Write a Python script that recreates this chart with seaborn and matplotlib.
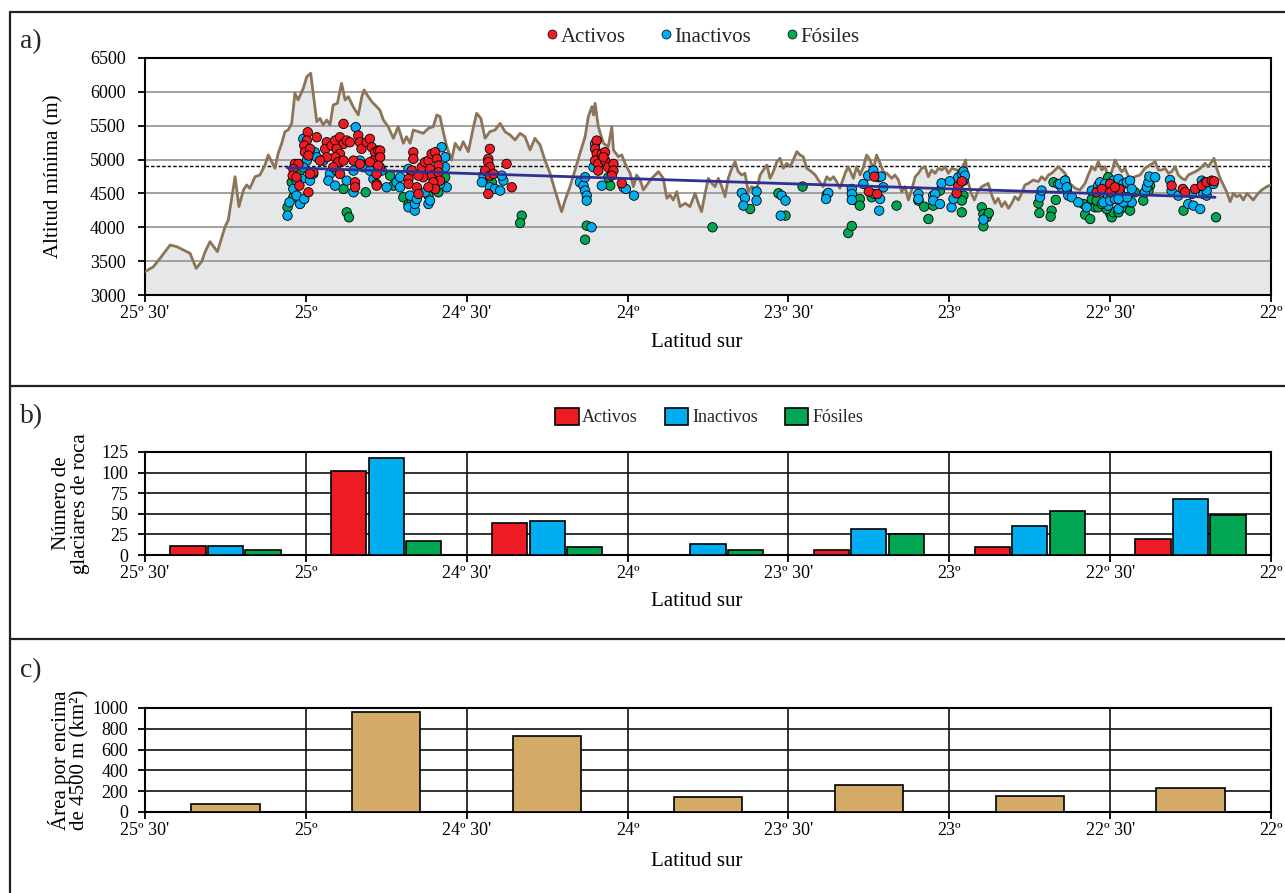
import numpy as np
import pandas as pd
import matplotlib
matplotlib.use("Agg")
import matplotlib.pyplot as plt
import seaborn as sns
from matplotlib.lines import Line2D
from matplotlib.patches import Patch

# ---------------- DATA ----------------
# topographic profile (latitude south, altitude m)
profile = [
    (25.500, 3344), (25.474, 3418), (25.453, 3542), (25.422, 3738), (25.401, 3714), (25.381, 3665),
    (25.360, 3616), (25.341, 3394), (25.324, 3492), (25.313, 3640), (25.298, 3788), (25.275, 3640),
    (25.251, 4010), (25.241, 4108), (25.220, 4747), (25.208, 4305), (25.194, 4551), (25.184, 4625),
    (25.174, 4576), (25.158, 4747), (25.143, 4772), (25.127, 4920), (25.117, 5068), (25.106, 4969),
    (25.096, 4871), (25.086, 5093), (25.075, 5240), (25.065, 5412), (25.055, 5437), (25.044, 5535),
    (25.034, 5979), (25.024, 5880), (25.008, 6053), (24.997, 6225), (24.985, 6275), (24.977, 5979),
    (24.966, 5560), (24.956, 5609), (24.946, 5511), (24.935, 5585), (24.925, 5511), (24.915, 5806),
    (24.902, 5831), (24.889, 6127), (24.878, 5880), (24.868, 5929), (24.853, 5782), (24.837, 5659),
    (24.826, 5929), (24.819, 6028), (24.806, 5929), (24.795, 5855),
    (24.770, 5732), (24.759, 5585), (24.744, 5486), (24.728, 5314), (24.713, 5486), (24.697, 5240),
    (24.687, 5338), (24.676, 5240), (24.666, 5437), (24.650, 5412), (24.635, 5388), (24.619, 5462),
    (24.604, 5486), (24.593, 5659), (24.583, 5634), (24.573, 5412), (24.562, 5190), (24.547, 4994),
    (24.536, 5240), (24.521, 5142), (24.511, 5264), (24.495, 5117), (24.479, 5486), (24.469, 5683),
    (24.456, 5609), (24.443, 5314), (24.428, 5412), (24.412, 5437), (24.396, 5535), (24.381, 5412),
    (24.365, 5363), (24.350, 5290), (24.334, 5388), (24.319, 5338), (24.303, 5142), (24.288, 5314),
    (24.272, 5216), (24.257, 4994), (24.241, 4797), (24.226, 4551), (24.210, 4305), (24.205, 4230),
    (24.194, 4403), (24.179, 4600), (24.163, 4846), (24.148, 5093), (24.132, 5338), (24.122, 5634),
    (24.111, 5781), (24.106, 5659), (24.101, 5831), (24.091, 5486), (24.075, 5240), (24.060, 5190),
    (24.049, 5486),
    (24.044, 5142), (24.029, 5043), (24.018, 5068), (24.008, 4945), (23.992, 4797), (23.982, 4600),
    (23.972, 4772), (23.961, 4699), (23.951, 4551), (23.940, 4625), (23.925, 4723), (23.904, 4821),
    (23.889, 4723), (23.878, 4428), (23.868, 4477), (23.858, 4403), (23.847, 4526), (23.837, 4305),
    (23.821, 4354), (23.806, 4305), (23.790, 4502), (23.780, 4354), (23.770, 4231), (23.759, 4502),
    (23.749, 4723), (23.738, 4650), (23.728, 4600), (23.718, 4723), (23.707, 4600), (23.697, 4452),
    (23.687, 4723), (23.676, 4871), (23.666, 4969), (23.656, 4821), (23.645, 4772), (23.635, 4797),
    (23.625, 4526), (23.614, 4600), (23.599, 4551), (23.588, 4772), (23.578, 4846), (23.567, 4920),
    (23.557, 4723), (23.547, 4821), (23.536, 4969), (23.526, 5019), (23.516, 4871), (23.505, 4945),
    (23.495, 4895), (23.485, 4994), (23.474, 5117), (23.464, 5068), (23.454, 5043), (23.443, 4871),
    (23.428, 4821), (23.417, 4772), (23.407, 4699), (23.392, 4600), (23.381, 4747), (23.371, 4699),
    (23.360, 4747), (23.350, 4674), (23.340, 4576), (23.329, 4723),
    (23.324, 4797), (23.314, 4895), (23.298, 4723), (23.288, 4895), (23.277, 4772), (23.267, 4895),
    (23.257, 5068), (23.246, 4994), (23.236, 4846), (23.226, 5068), (23.215, 4945), (23.205, 4821),
    (23.194, 4797), (23.179, 4723), (23.169, 4772), (23.158, 4699), (23.148, 4526), (23.138, 4600),
    (23.127, 4403), (23.117, 4551), (23.106, 4747), (23.096, 4797), (23.086, 4871), (23.075, 4895),
    (23.065, 4747), (23.055, 4846), (23.044, 4797), (23.034, 4871), (23.023, 4846), (23.013, 4895),
    (23.003, 4797), (22.992, 4871), (22.977, 4846), (22.967, 4846), (22.956, 4920), (22.949, 4994),
    (22.943, 4699), (22.932, 4502), (22.922, 4403), (22.912, 4526), (22.899, 4600), (22.889, 4625),
    (22.879, 4649), (22.868, 4477), (22.858, 4354), (22.848, 4428), (22.837, 4305), (22.827, 4378),
    (22.816, 4280), (22.806, 4354), (22.796, 4452), (22.785, 4403), (22.775, 4502), (22.765, 4625),
    (22.754, 4649), (22.739, 4699), (22.723, 4674), (22.713, 4747), (22.702, 4699), (22.692, 4772),
    (22.682, 4797), (22.671, 4846), (22.661, 4895),
    (22.640, 4797), (22.625, 4649), (22.609, 4576), (22.594, 4551), (22.578, 4649), (22.568, 4772),
    (22.557, 4895), (22.547, 4846), (22.537, 4969), (22.526, 4846), (22.516, 4895), (22.506, 4747),
    (22.495, 4821), (22.485, 4994), (22.474, 4895), (22.464, 4821), (22.454, 4871), (22.438, 4699),
    (22.423, 4747), (22.407, 4772), (22.392, 4871), (22.376, 4920), (22.360, 4969), (22.350, 4846),
    (22.340, 4846), (22.329, 4871), (22.319, 4797), (22.309, 4821), (22.298, 4895), (22.288, 4772),
    (22.277, 4723), (22.267, 4699), (22.257, 4772), (22.246, 4797), (22.236, 4821), (22.226, 4846),
    (22.215, 4895), (22.205, 4945), (22.195, 4895), (22.184, 4969), (22.177, 5019), (22.169, 4871),
    (22.158, 4723), (22.148, 4625), (22.138, 4526), (22.127, 4378), (22.117, 4502), (22.107, 4452),
    (22.096, 4477), (22.086, 4403), (22.075, 4502), (22.065, 4452), (22.055, 4403), (22.044, 4477),
    (22.029, 4551), (22.013, 4600), (22.001, 4625),
]

activos_pts = [
    (24.883, 5527), (24.994, 5404), (24.997, 5281), (25.005, 5207), (25.003, 5108), (24.987, 5158),
    (24.992, 5059), (25.034, 4936), (25.023, 4936), (25.039, 4862), (25.041, 4763), (25.029, 4739),
    (25.020, 4615), (24.992, 4517), (24.966, 5330), (24.935, 5256), (24.940, 5158), (24.920, 5207),
    (24.909, 5281), (24.894, 5330), (24.883, 5232), (24.873, 5281), (24.863, 5256), (24.904, 5158),
    (24.894, 5084), (24.909, 5035), (24.899, 4961), (24.915, 4887), (24.894, 4788), (24.837, 5355),
    (24.832, 5256), (24.827, 5158), (24.811, 5256), (24.801, 5306), (24.795, 5182), (24.785, 5108),
    (24.775, 5133), (24.790, 4985), (24.770, 5035), (24.852, 4985), (24.832, 4936), (24.801, 4961),
    (24.780, 4640), (24.847, 4665), (24.847, 4591), (24.883, 4985), (24.935, 5035), (24.956, 4985),
    (24.977, 4813), (24.987, 4788), (24.770, 4887),
    (24.769, 5133), (24.769, 5035), (24.775, 4911), (24.780, 4788), (24.780, 4615), (24.666, 5108),
    (24.666, 5010), (24.671, 4837), (24.681, 4714), (24.681, 4640), (24.655, 4591), (24.650, 4492),
    (24.640, 4887), (24.630, 4961), (24.619, 4985), (24.609, 5084), (24.598, 5108), (24.593, 5010),
    (24.588, 4911), (24.614, 4862), (24.609, 4763), (24.588, 4813), (24.583, 4689), (24.604, 4665),
    (24.598, 4566), (24.619, 4591), (24.635, 4739), (24.650, 4763), (24.428, 5158), (24.433, 5010),
    (24.433, 4961), (24.428, 4887), (24.443, 4837), (24.428, 4763), (24.433, 4492), (24.417, 4788),
    (24.376, 4936), (24.360, 4591), (24.096, 5281), (24.101, 5158), (24.096, 5084), (24.101, 4985),
    (24.091, 4936), (24.080, 5084), (24.070, 5108), (24.070, 4985), (24.060, 4887), (24.044, 4936),
    (24.044, 4837), (24.049, 4763), (24.091, 4837), (24.075, 5035), (24.018, 4650),
    (23.233, 4749), (23.250, 4527), (23.224, 4492), (22.972, 4606), (22.961, 4680), (22.977, 4502),
    (22.542, 4517), (22.526, 4566), (22.500, 4640), (22.500, 4517), (22.471, 4566), (22.485, 4591),
    (22.309, 4615), (22.274, 4566), (22.267, 4517), (22.236, 4566), (22.215, 4615), (22.200, 4665),
    (22.184, 4689), (22.177, 4680),
]

inactivos_pts = [
    (25.008, 5306), (24.972, 5108), (24.966, 5035), (24.997, 4985), (25.008, 4887), (25.013, 4714),
    (25.029, 4689), (25.039, 4566), (25.051, 4369), (25.057, 4172), (25.018, 4344), (25.029, 4468),
    (25.005, 4418), (24.987, 4689), (24.977, 4788), (24.946, 4985), (24.925, 4788), (24.930, 4689),
    (24.909, 4615), (24.904, 4837), (24.873, 4689), (24.852, 4517), (24.832, 4985), (24.821, 4887),
    (24.845, 5478), (24.852, 4837), (24.790, 4714), (24.801, 4837),
    (24.764, 4837), (24.749, 4591), (24.718, 4665), (24.707, 4591), (24.707, 4739), (24.681, 4862),
    (24.676, 4468), (24.681, 4295), (24.661, 4246), (24.661, 4344), (24.619, 4344), (24.614, 4394),
    (24.630, 4517), (24.604, 4813), (24.578, 5182), (24.567, 5035), (24.567, 4887), (24.562, 4591),
    (24.583, 4640), (24.619, 4837), (24.655, 4418), (24.448, 4763), (24.453, 4665), (24.428, 4591),
    (24.412, 4566), (24.396, 4542), (24.386, 4689), (24.391, 4763), (24.148, 4665), (24.137, 4615),
    (24.132, 4542), (24.127, 4468), (24.127, 4394), (24.132, 4739), (24.112, 4000), (24.080, 4615),
    (24.101, 5232), (24.106, 4887),
    (24.013, 4591), (24.005, 4566), (23.980, 4468), (23.645, 4507), (23.635, 4433), (23.640, 4320),
    (23.599, 4527), (23.599, 4394), (23.521, 4468), (23.509, 4394), (23.524, 4172), (23.381, 4482),
    (23.376, 4507), (23.383, 4418),
    (23.303, 4566), (23.303, 4492), (23.303, 4404), (23.267, 4640), (23.252, 4763), (23.236, 4837),
    (23.220, 4739), (23.212, 4749), (23.205, 4591), (23.231, 4492), (23.215, 4418), (23.218, 4246),
    (23.096, 4492), (23.096, 4418), (23.050, 4468), (23.044, 4492), (23.050, 4394), (23.029, 4344),
    (23.024, 4650), (22.998, 4680), (22.993, 4295), (22.987, 4418), (22.972, 4739), (22.961, 4788),
    (22.956, 4823), (22.956, 4689), (22.951, 4763), (22.894, 4113), (22.718, 4443), (22.713, 4542),
    (22.661, 4640), (22.651, 4591), (22.640, 4689),
    (22.656, 4640), (22.640, 4689), (22.635, 4591), (22.630, 4468), (22.619, 4443), (22.599, 4369),
    (22.573, 4295), (22.557, 4542), (22.537, 4615), (22.531, 4665), (22.521, 4517), (22.516, 4640),
    (22.506, 4468), (22.500, 4591), (22.490, 4689), (22.485, 4542), (22.474, 4714), (22.469, 4517),
    (22.464, 4369), (22.474, 4270), (22.506, 4320), (22.521, 4369), (22.500, 4394), (22.485, 4418),
    (22.459, 4640), (22.448, 4665), (22.438, 4689), (22.433, 4566), (22.433, 4369), (22.459, 4369),
    (22.448, 4443), (22.474, 4418), (22.392, 4517), (22.386, 4591), (22.381, 4665), (22.378, 4749),
    (22.360, 4739), (22.314, 4699), (22.309, 4542), (22.288, 4468), (22.257, 4344), (22.241, 4320),
    (22.246, 4492), (22.220, 4270), (22.210, 4492), (22.200, 4468), (22.215, 4689), (22.205, 4665),
    (22.200, 4542), (22.179, 4640),
]

fosiles_pts = [
    (25.057, 4295), (25.039, 4443), (25.044, 4665), (24.883, 4566), (24.873, 4221), (24.866, 4147),
    (24.814, 4517), (25.018, 4837),
    (24.738, 4763), (24.728, 4615), (24.697, 4443), (24.681, 4344), (24.671, 4369), (24.619, 4468),
    (24.588, 4517), (24.567, 4739), (24.422, 4665), (24.329, 4172), (24.334, 4063), (24.127, 4024),
    (24.132, 3817), (24.054, 4615), (24.060, 4739),
    (23.619, 4270), (23.531, 4502), (23.509, 4172), (23.736, 4000), (23.456, 4601),
    (23.314, 3915), (23.303, 4019), (23.288, 4394), (23.278, 4418), (23.278, 4320), (23.241, 4443),
    (23.164, 4320), (23.096, 4394), (23.078, 4305), (23.065, 4122), (23.050, 4320), (23.029, 4542),
    (22.956, 4468), (22.961, 4394), (22.961, 4221), (22.899, 4295), (22.894, 4196), (22.884, 4147),
    (22.877, 4211), (22.894, 4014), (22.723, 4354), (22.720, 4211), (22.682, 4246), (22.685, 4157),
    (22.669, 4404), (22.676, 4665),
    (22.635, 4542), (22.583, 4344), (22.578, 4187), (22.562, 4122), (22.557, 4418), (22.547, 4295),
    (22.537, 4295), (22.542, 4394), (22.506, 4739), (22.500, 4206), (22.495, 4147), (22.490, 4221),
    (22.474, 4221), (22.454, 4295), (22.438, 4246), (22.423, 4517), (22.438, 4369), (22.397, 4394),
    (22.376, 4615), (22.381, 4542), (22.272, 4246), (22.171, 4147), (22.511, 4270), (22.526, 4344),
]

trend_lat = [25.058, 22.174]
trend_alt = [4880, 4443]
threshold_alt = 4910

categories = ["Activos", "Inactivos", "Fósiles"]
bin_centers = [25.25, 24.75, 24.25, 23.75, 23.25, 22.75, 22.25]
n_activos = [11, 102, 39, 0, 6, 10, 19]
n_inactivos = [11, 118, 41, 13, 31, 35, 68]
n_fosiles = [6, 17, 10, 6, 25, 54, 48]
area_4500 = [80, 960, 730, 145, 255, 155, 235]

tick_pos = [25.5, 25.0, 24.5, 24.0, 23.5, 23.0, 22.5, 22.0]
tick_lab = ["25º 30'", "25º", "24º 30'", "24º", "23º 30'", "23º", "22º 30'", "22º"]

# ---------------- STYLE ----------------
sns.set_theme(style="white")
plt.rcParams['font.family'] = ['Liberation Serif', 'DejaVu Serif']
plt.rcParams['axes.edgecolor'] = 'black'

colors = {"Activos": "#ED1C24", "Inactivos": "#00AEEF", "Fósiles": "#00A651"}

W, H = 1285, 893
fig = plt.figure(figsize=(W / 100, H / 100), dpi=100)

def fax(l, t, r, b):
    return fig.add_axes([l / W, 1 - b / H, (r - l) / W, (b - t) / H])

axA = fax(145, 58, 1271, 295)
axB = fax(145, 452, 1271, 555)
axC = fax(145, 708, 1271, 812)

# ---------------- PANEL A ----------------
p_lat = [p[0] for p in profile]
p_alt = [p[1] for p in profile]
axA.fill_between(p_lat, 3000, p_alt, color='#E6E7E8', lw=0, zorder=1)
sns.lineplot(x=p_lat, y=p_alt, sort=False, color='#8B7457', lw=2.0, ax=axA, zorder=3)
axA.axhline(threshold_alt, color='black', lw=1.0, ls=(0, (2.5, 1.5)), zorder=2.5)

rows = []
for name, pts in [("Fósiles", fosiles_pts), ("Inactivos", inactivos_pts), ("Activos", activos_pts)]:
    for la, al in pts:
        rows.append((la, al, name))
df = pd.DataFrame(rows, columns=["lat", "alt", "tipo"])
sns.scatterplot(data=df, x="lat", y="alt", hue="tipo", palette=colors, s=46,
                edgecolor='black', linewidth=0.6, legend=False, ax=axA, zorder=4)
sns.lineplot(x=trend_lat, y=trend_alt, color='#2E3192', lw=2.0, ax=axA, zorder=5)

axA.set_xlim(25.5, 22.0)
axA.set_ylim(3000, 6500)
axA.set_yticks(range(3000, 6501, 500))
axA.set_axisbelow('line')
axA.yaxis.grid(True, color='#9A9A9A', lw=1.3)
axA.xaxis.grid(False)

# ---------------- PANEL B ----------------
dfB = pd.DataFrame({
    "lat": bin_centers * 3,
    "n": n_activos + n_inactivos + n_fosiles,
    "tipo": ["Activos"] * 7 + ["Inactivos"] * 7 + ["Fósiles"] * 7,
})
sns.barplot(data=dfB, x="lat", y="n", hue="tipo", hue_order=["Fósiles", "Inactivos", "Activos"],
            palette=colors, native_scale=True, width=0.70, gap=0.06, saturation=1,
            edgecolor='black', linewidth=1.2, errorbar=None, legend=False, ax=axB, zorder=3)
axB.set_xlim(25.5, 22.0)
axB.set_ylim(0, 125)
axB.set_yticks(range(0, 126, 25))

# ---------------- PANEL C ----------------
sns.barplot(x=bin_centers, y=area_4500, native_scale=True, width=0.424, saturation=1,
            color='#D3AB67', edgecolor='black', linewidth=1.2, errorbar=None, ax=axC, zorder=3)
axC.set_xlim(25.5, 22.0)
axC.set_ylim(0, 1000)
axC.set_yticks(range(0, 1001, 200))

for ax in (axB, axC):
    ax.set_axisbelow(True)
    ax.grid(True, color='#111111', lw=1.2)

for ax in (axA, axB, axC):
    ax.set_xticks(tick_pos)
    ax.set_xticklabels(tick_lab)
    for s in ax.spines.values():
        s.set_color('black')
        s.set_linewidth(1.5)
        s.set_visible(True)
    ax.tick_params(axis='both', which='major', bottom=True, left=True, direction='out',
                   length=5, width=1.3, color='black', labelsize=13, labelcolor='black')
    ax.tick_params(axis='x', pad=2)
    ax.set_xlabel("Latitud sur", fontsize=15, color='black')

axA.tick_params(axis='y', pad=9)
axB.tick_params(axis='y', pad=7)
axC.tick_params(axis='y', pad=7)

axA.set_ylabel("Altitud mínima (m)", fontsize=15, color='black')
axB.set_ylabel("Número de\nglaciares de roca", fontsize=15, color='black', linespacing=1.0)
axC.set_ylabel("Área por encima\nde 4500 m (km²)", fontsize=15, color='black', linespacing=1.0)
axA.yaxis.set_label_coords(-0.0728, 0.5)
axB.yaxis.set_label_coords(-0.049, 0.5)
axC.yaxis.set_label_coords(-0.049, 0.5)

axA.xaxis.set_label_coords(0.49, -0.2025)
axB.xaxis.set_label_coords(0.49, -0.456)
axC.xaxis.set_label_coords(0.49, -0.48)
for ax in (axA, axB, axC):
    ax.xaxis.label.set_verticalalignment('center')

# ---------------- LEGENDS ----------------
hA = [Line2D([], [], marker='o', ls='', markerfacecolor=colors[c], markeredgecolor='black',
             markeredgewidth=0.5, markersize=6.5) for c in categories]
fig.legend(hA, categories, loc='center', bbox_to_anchor=(702 / W, 1 - 37 / H), ncol=3,
           frameon=False, fontsize=15, handletextpad=0.05, columnspacing=1.6, handlelength=0.7)
hB = [Patch(facecolor=colors[c], edgecolor='black', linewidth=1.2) for c in categories]
fig.legend(hB, categories, loc='center', bbox_to_anchor=(709 / W, 1 - 417 / H), ncol=3,
           frameon=False, fontsize=13, handletextpad=0.2, columnspacing=1.5,
           handlelength=1.3, handleheight=1.1)

# ---------------- FRAME / PANEL LABELS ----------------
def fline(x0, y0, x1, y1):
    fig.add_artist(Line2D([x0 / W, x1 / W], [1 - y0 / H, 1 - y1 / H], color='#222222', lw=1.6))

fline(10, 12, W, 12)
fline(10, 12, 10, H)
fline(10, 386, W, 386)
fline(10, 639, W, 639)

fig.text(20 / W, 1 - 42 / H, "a)", fontsize=20, va='center', ha='left')
fig.text(20 / W, 1 - 417 / H, "b)", fontsize=20, va='center', ha='left')
fig.text(20 / W, 1 - 671 / H, "c)", fontsize=20, va='center', ha='left')

fig.savefig("out.png", dpi=100)
